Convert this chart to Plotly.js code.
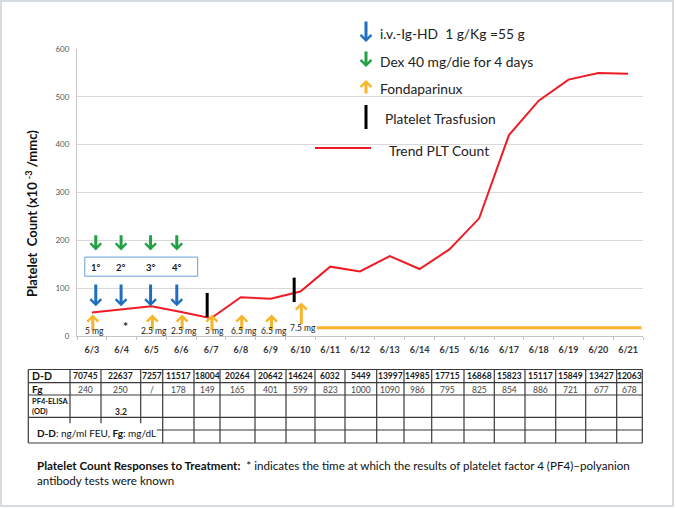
<!DOCTYPE html>
<html>
<head>
<meta charset="utf-8">
<script src="https://cdn.plot.ly/plotly-3.0.1.min.js"></script>
<style>html,body{margin:0;padding:0;background:#fff;}#chart{width:676px;height:509px;}</style>
</head>
<body>
<div id="chart"></div>
<script>
// ---------------- data ----------------
const dates = ['6/3','6/4','6/5','6/6','6/7','6/8','6/9','6/10','6/11','6/12','6/13','6/14','6/15','6/16','6/17','6/18','6/19','6/20','6/21'];
const pltCount = [49, 56, 62, 50, 37, 81, 78, 93, 145, 135, 167, 140, 181, 246, 420, 492, 536, 550, 548];
const ivigDays = ['6/3','6/4','6/5','6/6'];
const dexDays = ['6/3','6/4','6/5','6/6'];
const dexCycleLabels = ['1°','2°','3°','4°'];
const fondaDays = ['6/3','6/5','6/6','6/7','6/8','6/9','6/10'];
const fondaDoses = ['5 mg','2.5 mg','2.5 mg','5 mg','6.5 mg','6.5 mg','7.5 mg'];
const fondaContinuous = ['6/11','6/21'];
const fondaContinuousLevel = 17;
const pf4KnownDay = '6/4';
const transfusionDays = ['6/7','6/10'];
const ddimer = ['70745','22637','7257','11517','18004','20264','20642','14624','6032','5449','13997','14985','17715','16868','15823','15117','15849','13427','12063'];
const fibrinogen = ['240','250','/','178','149','165','401','599','823','1000','1090','986','795','825','854','886','721','677','678'];
const pf4Elisa = ['','3.2','','','','','','','','','','','','','','','','',''];
const legendLabels = ['i.v.-Ig-HD  1 g/Kg =55 g','Dex 40 mg/die for 4 days','Fondaparinux','Platelet Trasfusion','Trend PLT Count'];
const yTitle = 'Platelet  Count (x10 <sup>-3</sup> /mmc)';
const caption = '<b>Platelet Count Responses to Treatment:</b>  * indicates the time at which the results of platelet factor 4 (PF4)–polyanion<br>antibody tests were known';

// ---------------- geometry helpers ----------------
const W = 676, H = 509, ML = 77, MR = 33, MT = 49, MB = 173;
const PW = W - ML - MR, PH = H - MT - MB;
const px = p => (p - ML) / PW;
const py = p => 1 - (p - MT) / PH;
const di = d => dates.indexOf(d);
const idx = dates.map((d, i) => i);

const FONT = 'Lato, "Open Sans", sans-serif';
const BLUE = '#1f6fc0', GREEN = '#22a046', ORANGE = '#f8b42a', RED = '#ee1c25';

const traces = [];
traces.push({x: idx, y: pltCount, type: 'scatter', mode: 'lines', line: {color: RED, width: 2}, hoverinfo: 'skip'});
traces.push({x: [di(fondaContinuous[0]) - 0.45, di(fondaContinuous[1]) + 0.45], y: [fondaContinuousLevel, fondaContinuousLevel],
  type: 'scatter', mode: 'lines', line: {color: ORANGE, width: 3}, hoverinfo: 'skip'});
const trNudge = [-0.13, -0.21], trLow = [40, 71], trHigh = [90, 122];
const trx = [], tryy = [];
transfusionDays.forEach((d, i) => { trx.push(di(d) + trNudge[i], di(d) + trNudge[i], null); tryy.push(trLow[i], trHigh[i], null); });
traces.push({x: trx, y: tryy, type: 'scatter', mode: 'lines', line: {color: '#000', width: 3}, hoverinfo: 'skip'});

const ann = [];
const shapes = [];
const arrowNudge = [0.13, -0.02, -0.03, -0.15];
function dataArrow(x, tipY, tailY, color) {
  ann.push({x: x, y: tipY, ax: x, ay: tailY, xref: 'x', yref: 'y', axref: 'x', ayref: 'y', text: '', showarrow: true,
    arrowhead: 4, arrowsize: 0.7, arrowwidth: 3, arrowcolor: color, standoff: 0});
}
ivigDays.forEach((d, i) => dataArrow(di(d) + arrowNudge[i], 62, 111, BLUE));
dexDays.forEach((d, i) => dataArrow(di(d) + arrowNudge[i], 179, 214, GREEN));
fondaDays.forEach((d, i) => {
  const last = i === fondaDays.length - 1;
  dataArrow(di(d) + 0.03, last ? 70 : 45, last ? 22 : 9, ORANGE);
});
function dtext(x, y, text, size, color) {
  ann.push({x: x, y: y, xref: 'x', yref: 'y', xanchor: 'center', yanchor: 'middle', text: text, showarrow: false,
    font: {family: FONT, size: size, color: color}});
}
fondaDays.forEach((d, i) => {
  const last = i === fondaDays.length - 1;
  dtext(di(d) + 0.1, last ? 16 : 11, fondaDoses[i], 8.5, '#1a1a1a');
});
dtext(di(pf4KnownDay) + 0.13, 20, '<b>*</b>', 12, '#1a1a1a');
dexCycleLabels.forEach((t, i) => dtext(di(dexDays[i]) + arrowNudge[i], 144, '<b>' + t + '</b>', 9.5, '#1a1a1a'));
shapes.push({type: 'rect', xref: 'x', yref: 'y', x0: di(dexDays[0]) - 0.24, x1: di(dexDays[3]) + 0.55, y0: 125, y1: 165,
  line: {color: '#6a9fd6', width: 1}});

// ---------------- legend (drawn) ----------------
function pxArrow(x, y, ay, color) {
  ann.push({x: px(x), y: py(y), xref: 'paper', yref: 'paper', ax: 0, ay: ay, text: '', showarrow: true,
    arrowhead: 4, arrowsize: 0.7, arrowwidth: 3, arrowcolor: color, standoff: 0});
}
function ptext(x, y, text, size, color, xanchor, extra) {
  const a = {x: px(x), y: py(y), xref: 'paper', yref: 'paper', xanchor: xanchor || 'center', yanchor: 'middle', text: text,
    showarrow: false, font: {family: FONT, size: size, color: color}};
  Object.assign(a, extra || {});
  ann.push(a);
}
pxArrow(366, 42, -22, BLUE);
pxArrow(366, 67, -17, GREEN);
pxArrow(366, 80, 15, ORANGE);
shapes.push({type: 'line', xref: 'paper', yref: 'paper', x0: px(366), x1: px(366), y0: py(105), y1: py(129), line: {color: '#000', width: 3}});
shapes.push({type: 'line', xref: 'paper', yref: 'paper', x0: px(315), x1: px(371), y0: py(148), y1: py(148), line: {color: RED, width: 2}});
const legPos = [[378, 33], [378, 62], [378, 88], [383, 118], [387, 150]];
legendLabels.forEach((t, i) => ptext(legPos[i][0], legPos[i][1], t, 13.8, '#222', 'left'));

// y title
ptext(31, 214, '<b>' + yTitle + '</b>', 13, '#111', 'center', {textangle: -90});

// ---------------- table ----------------
const colB = [70, 101, 140.7, 162.7, 194, 220, 255, 286, 315, 345, 376.7, 404, 431.7, 464, 494.3, 525, 555.7, 585.7, 616.7, 642.3];
const tL = 28.3, tR = 642.3, rows = [369.5, 382.7, 395, 417.3, 430, 443];
const TL = '#3a3a3a';
function hl(x0, x1, y) { shapes.push({type: 'line', xref: 'paper', yref: 'paper', x0: px(x0), x1: px(x1), y0: py(y), y1: py(y), line: {color: TL, width: 1.2}}); }
function vl(x, y0, y1) { shapes.push({type: 'line', xref: 'paper', yref: 'paper', x0: px(x), x1: px(x), y0: py(y0), y1: py(y1), line: {color: TL, width: 1.2}}); }
hl(tL, tR, rows[0]); hl(tL, tR, rows[1]); hl(tL, tR, rows[2]); hl(tL, tR, rows[3]); hl(156.7, tR, rows[4]); hl(tL, tR, rows[5]);
vl(tL, rows[0], rows[5]);
colB.forEach((c, i) => { if (i < 3) vl(c, rows[0], rows[3] + 6); else vl(c, rows[0], rows[5]); });
ptext(30, 376, '<b>D-D</b>', 10.5, '#111', 'left');
ptext(30, 389, '<b>Fg</b>', 10, '#111', 'left');
ptext(30, 406.5, '<b>PF4-ELISA<br>(OD)</b>', 7.5, '#111', 'left', {align: 'left'});
for (let i = 0; i < ddimer.length; i++) {
  const cx = (colB[i] + colB[i + 1]) / 2;
  ptext(cx, 376, '<b>' + ddimer[i] + '</b>', 8.5, '#1a1a1a');
  ptext(cx, 389.5, fibrinogen[i], 8.5, '#444');
  if (pf4Elisa[i]) ptext(cx, 411.5, '<b>' + pf4Elisa[i] + '</b>', 8.5, '#1a1a1a');
}
ptext(35, 433, '<b>D-D</b>: ng/ml FEU, <b>Fg</b>: mg/dL', 10, '#111', 'left');

// caption
ann.push({x: px(35), y: py(457), xref: 'paper', yref: 'paper', xanchor: 'left', yanchor: 'top', align: 'left', text: caption, showarrow: false,
  font: {family: FONT, size: 11.6, color: '#111'}});

// frame
shapes.push({type: 'rect', xref: 'paper', yref: 'paper', x0: px(1), x1: px(673), y0: py(1), y1: py(506), line: {color: '#d6dbe2', width: 2}, layer: 'below'});

const layout = {
  width: W, height: H,
  margin: {l: ML, r: MR, t: MT, b: MB},
  paper_bgcolor: '#fff', plot_bgcolor: '#fff',
  showlegend: false,
  font: {family: FONT},
  xaxis: {range: [-0.5, 18.5], tickmode: 'array', tickvals: idx, ticktext: dates, ticks: '', showgrid: false, zeroline: false,
    showline: true, linecolor: '#c4c4c4', linewidth: 1, ticklabelstandoff: 5,
    tickfont: {family: FONT, size: 9, color: '#333', weight: 'bold'},
    minor: {tick0: -0.5, dtick: 1, ticks: 'outside', ticklen: 3, tickcolor: '#c4c4c4', showgrid: false}},
  yaxis: {range: [0, 600], dtick: 100, ticks: '', showgrid: true, gridcolor: '#d9d9d9', gridwidth: 1, zeroline: false,
    showline: true, linecolor: '#c4c4c4', linewidth: 1, ticklabelstandoff: 5,
    tickfont: {family: FONT, size: 8, color: '#595959'}},
  annotations: ann,
  shapes: shapes
};

Plotly.newPlot('chart', traces, layout, {staticPlot: true, displayModeBar: false});
</script>
</body>
</html>
